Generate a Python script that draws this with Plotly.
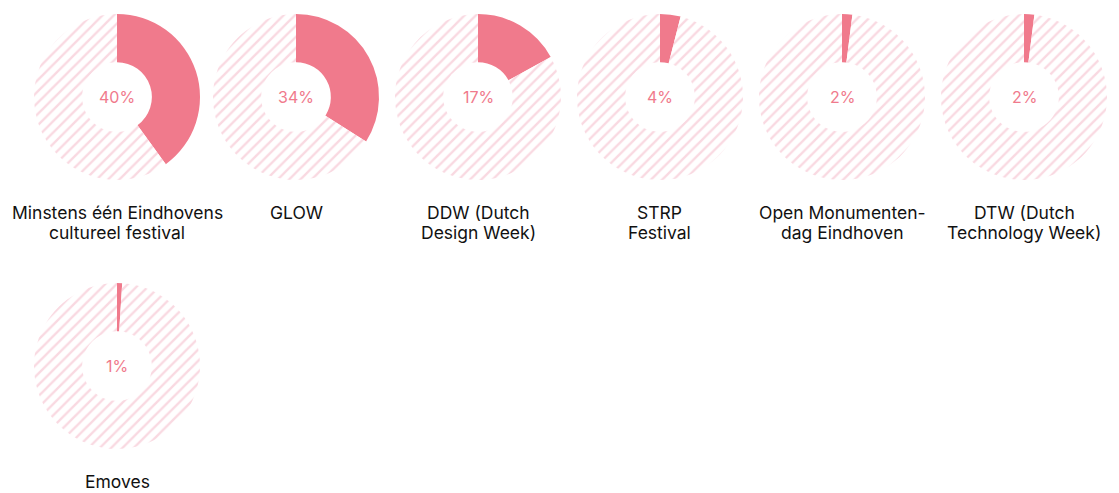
import plotly.graph_objects as go

W, H = 1119, 493
OFF = 8  # page body margin offset
FW, FH = W - OFF, H - OFF

labels = ["Minstens één Eindhovens<br>cultureel festival", "GLOW", "DDW (Dutch<br>Design Week)",
          "STRP<br>Festival", "Open Monumenten-<br>dag Eindhoven", "DTW (Dutch<br>Technology Week)", "Emoves"]
values = [40, 34, 17, 4, 2, 2, 1]
pct_text = ["40%", "34%", "17%", "4%", "2%", "2%", "1%"]

centers_x = [117, 296, 478, 660, 842, 1024, 117]
centers_y = [97, 97, 97, 97, 97, 97, 366]
R = 83

FILL = "#F07A8C"
HATCH = "#F4B3C4"

fig = go.Figure()
annotations = []
for lab, v, t, cx, cy in zip(labels, values, pct_text, centers_x, centers_y):
    px, py = cx - OFF, cy - OFF
    x0, x1 = (px - R) / FW, (px + R) / FW
    y0, y1 = 1 - (py + R) / FH, 1 - (py - R) / FH
    fig.add_trace(go.Pie(
        values=[v, 100 - v],
        labels=["filled", "rest"],
        hole=0.42,
        sort=False,
        direction="clockwise",
        rotation=0,
        textinfo="none",
        hoverinfo="skip",
        showlegend=False,
        domain=dict(x=[x0, x1], y=[y0, y1]),
        marker=dict(
            colors=[FILL, "white"],
            line=dict(width=0),
            pattern=dict(shape=["", "/"], fgcolor=HATCH, bgcolor="white",
                         size=8, solidity=0.3, fillmode="overlay"),
        ),
    ))
    annotations.append(dict(x=px / FW, y=1 - py / FH, xref="paper", yref="paper",
                            text=t, showarrow=False, xanchor="center", yanchor="middle",
                            font=dict(size=16, color=FILL, family="Inter")))
    for i, line in enumerate(lab.split("<br>")):
        ly = py + R + 32 + 20 * i
        annotations.append(dict(x=px / FW, y=1 - ly / FH, xref="paper", yref="paper",
                                text=line, showarrow=False, yanchor="middle", xanchor="center",
                                font=dict(size=17.5, color="#111111", family="Inter")))

fig.update_layout(
    width=FW, height=FH,
    margin=dict(l=0, r=0, t=0, b=0),
    paper_bgcolor="white", plot_bgcolor="white",
    annotations=annotations,
)
fig.write_html("out.html")
